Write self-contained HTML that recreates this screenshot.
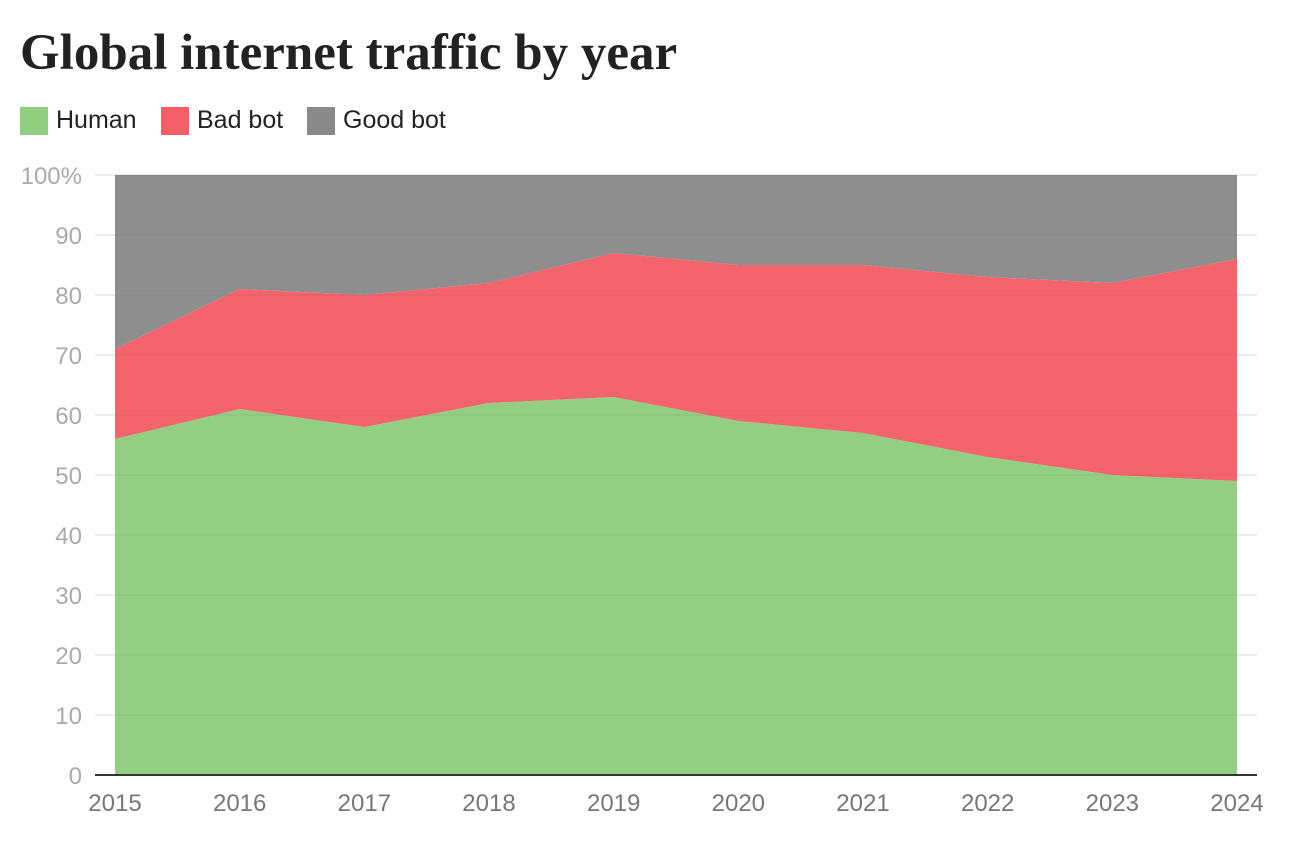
<!DOCTYPE html>
<html><head><meta charset="utf-8">
<style>
body{margin:0;width:1294px;height:844px;background:#fff;overflow:hidden;font-family:"Liberation Sans",sans-serif}
#title{position:absolute;left:20px;top:24px;font-family:"Liberation Serif",serif;font-weight:bold;font-size:51px;color:#222;letter-spacing:0px}
.leg{position:absolute;top:106px;display:flex;align-items:center;font-size:25px;color:#222}
.sw{width:28px;height:28px;margin-right:8px}
</style></head><body>
<div id="title">Global internet traffic by year</div>
<div class="leg" style="left:20px"><div class="sw" style="background:#90cd7f"></div>Human</div>
<div class="leg" style="left:161px"><div class="sw" style="background:#f45f68"></div>Bad bot</div>
<div class="leg" style="left:307px"><div class="sw" style="background:#8a8a8a"></div>Good bot</div>
<svg id="chart" width="1294" height="844" style="position:absolute;left:0;top:0"></svg>
<script>
const years=[2015,2016,2017,2018,2019,2020,2021,2022,2023,2024];
const human=[56,61,58,62,63,59,57,53,50,49];
const badBot=[15,20,22,20,24,26,28,30,32,37];
const goodBot=[29,19,20,18,13,15,15,17,18,14];
const yTicks=[0,10,20,30,40,50,60,70,80,90,100];
const yTickLabels=["0","10","20","30","40","50","60","70","80","90","100%"];
const NS="http://www.w3.org/2000/svg";
const svg=document.getElementById('chart');
const x=i=>115+i*(1237-115)/(years.length-1);
const y=v=>775-v*6;
function mk(t,a){const e=document.createElementNS(NS,t);for(const k in a)e.setAttribute(k,a[k]);svg.appendChild(e);return e;}
yTicks.forEach((v,i)=>{
  if(v>0){const g=mk('line',{x1:95,x2:1257,y1:y(v),y2:y(v),stroke:'#e6e6e6','stroke-width':1.5});
  
  }
  const t=mk('text',{x:82,y:y(v)+9,'text-anchor':'end','font-size':24,fill:'#aaa','font-family':'Liberation Sans, sans-serif'});
  t.textContent=yTickLabels[i];
  
  
});
const series=[[human,'#90cd7f','area-human'],[badBot,'#f45f68','area-bad-bot'],[goodBot,'#8a8a8a','area-good-bot']];
let base=years.map(()=>0);
series.forEach(([vals,col,name])=>{
  const top=base.map((b,i)=>b+vals[i]);
  let d='M'+years.map((_,i)=>x(i)+','+y(top[i])).join('L');
  for(let i=years.length-1;i>=0;i--)d+='L'+x(i)+','+y(base[i]);
  const p=mk('path',{d:d+'Z',fill:col,'fill-opacity':0.97});
  
  
  base=top;
});
yTicks.forEach(v=>{if(v>0){const g=mk('line',{x1:115,x2:1237,y1:y(v),y2:y(v),stroke:'#000','stroke-opacity':0.04,'stroke-width':1.5});
  
  }});
const ax=mk('line',{x1:95,x2:1257,y1:775,y2:775,stroke:'#333','stroke-width':2});


years.forEach((yr,i)=>{
  const t=mk('text',{x:x(i),y:811,'text-anchor':'middle','font-size':24,fill:'#777','font-family':'Liberation Sans, sans-serif'});
  t.textContent=yr;
  
  
});
</script>
</body></html>
